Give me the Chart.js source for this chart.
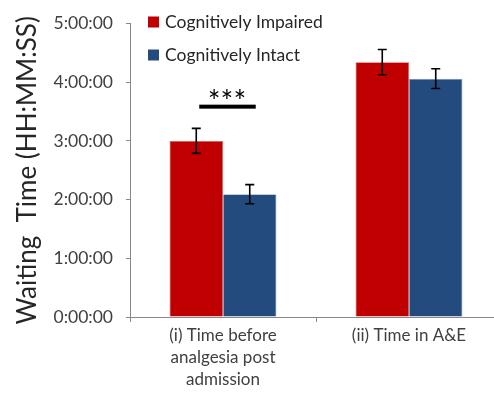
<!DOCTYPE html>
<html lang="en">
<head>
    <meta charset="UTF-8">
    <title>Waiting Time</title>
    <script src="https://cdn.jsdelivr.net/npm/chart.js"></script>
    <style>
        html, body { margin: 0; padding: 0; background: #fff; overflow: hidden; }
        canvas { display: block; }
    </style>
</head>
<body>
    <canvas id="waitChart" width="502" height="395"></canvas>
    <script>
        // waiting times in minutes, error bars in minutes
        const categories = [['(i) Time before', 'analgesia post', 'admission'], '(ii) Time in A&E'];
        const impaired = [180, 260.5];
        const impairedErr = [12.8, 12.9];
        const intact = [125.5, 243.6];
        const intactErr = [9.8, 10.1];
        const seriesNames = ['Cognitively Impaired', 'Cognitively Intact'];
        const yTicks = [0, 60, 120, 180, 240, 300];
        const sigLevel = 215;   // height of the significance bar
        const sigText = '***';

        const FONT = 'Lato, "Open Sans", sans-serif';

        function fmtTime(min) {
            const h = Math.floor(min / 60);
            const m = Math.round(min % 60);
            return h + ':' + String(m).padStart(2, '0') + ':00';
        }

        const errorBars = {
            id: 'errorBars',
            afterDatasetsDraw(chart) {
                const ctx = chart.ctx;
                const y = chart.scales.y;
                ctx.save();
                ctx.strokeStyle = '#000';
                ctx.lineWidth = 1.6;
                chart.data.datasets.forEach((ds, di) => {
                    chart.getDatasetMeta(di).data.forEach((bar, i) => {
                        const v = ds.data[i], e = ds.errors[i];
                        const top = y.getPixelForValue(v + e);
                        const bot = y.getPixelForValue(v - e);
                        const x = bar.x;
                        ctx.beginPath();
                        ctx.moveTo(x, top); ctx.lineTo(x, bot);
                        ctx.moveTo(x - 4.5, top); ctx.lineTo(x + 4.5, top);
                        ctx.moveTo(x - 4.5, bot); ctx.lineTo(x + 4.5, bot);
                        ctx.stroke();
                    });
                });
                ctx.restore();
            }
        };

        const significance = {
            id: 'significance',
            afterDatasetsDraw(chart) {
                const ctx = chart.ctx;
                const a = chart.getDatasetMeta(0).data[0];
                const b = chart.getDatasetMeta(1).data[0];
                const yPix = chart.scales.y.getPixelForValue(sigLevel);
                ctx.save();
                ctx.fillStyle = '#000';
                ctx.fillRect(a.x + 3, yPix - 2, b.x - a.x + 3, 4);
                ctx.font = '30px ' + FONT;
                ctx.textAlign = 'center';
                ctx.textBaseline = 'alphabetic';
                ctx.fillText(sigText, (a.x + b.x) / 2 + 4, yPix + 5);
                ctx.restore();
            }
        };

        const boxLegend = {
            id: 'boxLegend',
            afterDraw(chart) {
                const ctx = chart.ctx;
                ctx.save();
                ctx.font = '17.5px ' + FONT;
                ctx.textBaseline = 'middle';
                chart.data.datasets.forEach((ds, i) => {
                    const yc = 22 + i * 33;
                    ctx.fillStyle = ds.backgroundColor;
                    ctx.fillRect(148, yc - 5.5, 11, 11);
                    ctx.fillStyle = '#262626';
                    ctx.fillText(ds.label, 165, yc);
                });
                ctx.restore();
            }
        };

        new Chart(document.getElementById('waitChart'), {
            type: 'bar',
            data: {
                labels: categories,
                datasets: [
                    {
                        label: seriesNames[0],
                        data: impaired,
                        errors: impairedErr,
                        backgroundColor: '#C00000',
                        borderColor: '#D85A5A',
                        borderWidth: 0.8,
                        barPercentage: 1,
                        categoryPercentage: 0.575
                    },
                    {
                        label: seriesNames[1],
                        data: intact,
                        errors: intactErr,
                        backgroundColor: '#244B7E',
                        borderColor: '#8FA9C8',
                        borderWidth: 0.8,
                        barPercentage: 1,
                        categoryPercentage: 0.575
                    }
                ]
            },
            options: {
                responsive: false,
                animation: false,
                layout: { padding: { top: 18, right: 0, left: 0, bottom: 0 } },
                plugins: {
                    legend: { display: false },
                    tooltip: { enabled: false }
                },
                scales: {
                    x: {
                        grid: { drawOnChartArea: false, drawTicks: true, tickLength: 5, color: '#888' },
                        border: { color: '#888', width: 1 },
                        ticks: {
                            color: '#404040',
                            padding: 2,
                            font: { family: FONT, size: 17, lineHeight: 1.3 },
                            maxRotation: 0
                        },
                        afterFit(scale) { scale.height = 78; }
                    },
                    y: {
                        min: 0,
                        max: 300,
                        afterBuildTicks(scale) { scale.ticks = yTicks.map(v => ({ value: v })); },
                        grid: { drawOnChartArea: false, drawTicks: true, tickLength: 4, color: '#888' },
                        border: { color: '#888', width: 1 },
                        ticks: {
                            color: '#404040',
                            padding: 13,
                            font: { family: FONT, size: 17.5 },
                            callback: v => fmtTime(v)
                        },
                        title: {
                            display: true,
                            text: 'Waiting  Time (HH:MM:SS)',
                            color: '#262626',
                            font: { family: FONT, size: 26 },
                            padding: { top: 12, bottom: 0 }
                        },
                        afterFit(scale) { scale.width = 130; }
                    }
                }
            },
            plugins: [errorBars, significance, boxLegend]
        });
    </script>
</body>
</html>
